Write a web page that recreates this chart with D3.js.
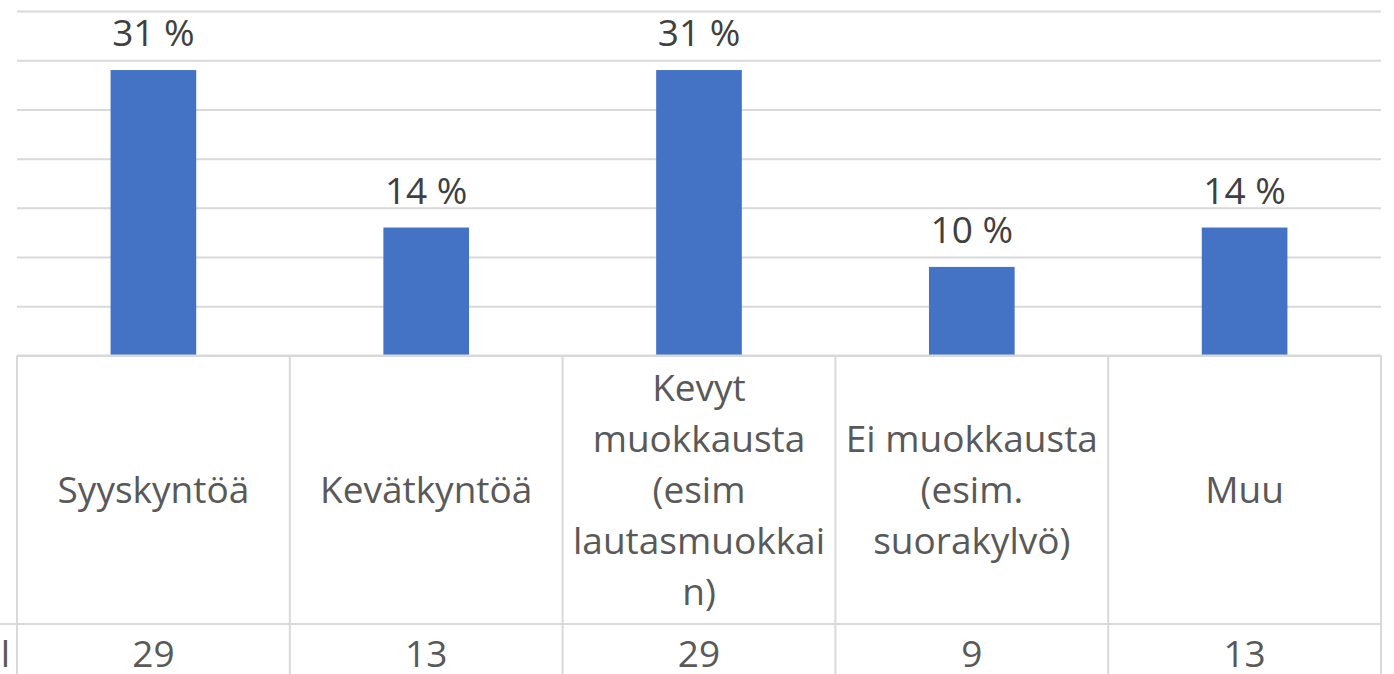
<!DOCTYPE html>
<html>
<head>
<meta charset="utf-8">
<script src="https://cdn.jsdelivr.net/npm/d3@7"></script>
<style>
  body { margin: 0; background: #fff; }
  svg { display: block; font-family: "Open Sans", sans-serif; }
</style>
</head>
<body>
<div class="chart"></div>
<script>
// chart data
var categories = ["Syyskyntöä", "Kevätkyntöä", "Kevyt\nmuokkausta\n(esim\nlautasmuokkai\nn)", "Ei muokkausta\n(esim.\nsuorakylvö)", "Muu"];
var counts = [29, 13, 29, 9, 13];
var yTicks = [0, 5, 10, 15, 20, 25, 30, 35];
var seriesName = "Kpl";

var width = 1394, height = 674;
var plotLeft = 17, plotRight = 1381, plotTop = 11, base = 355.5;
var rowLine = 624, fontSize = 37, lineGap = 51;

var total = d3.sum(counts);

var canvas = d3.select(".chart").append("svg")
    .attr("width", width)
    .attr("height", height);

var x = d3.scaleBand()
    .domain(categories)
    .range([plotLeft, plotRight])
    .paddingInner(0)
    .paddingOuter(0);

var y = d3.scaleLinear()
    .domain([0, 35])
    .range([base, plotTop]);

// gridlines
canvas.append("g")
    .attr("transform", "translate(" + plotLeft + ",0)")
    .call(d3.axisLeft(y).tickValues(yTicks).tickSize(-(plotRight - plotLeft)).tickFormat(""))
    .call(function (g) {
        g.select(".domain").remove();
        g.selectAll("line").attr("stroke", "#d9d9d9").attr("stroke-width", 2);
    });

// bars
var barW = x.bandwidth() * 0.314;
canvas.selectAll("rect.bar")
    .data(counts)
    .enter()
    .append("rect")
    .attr("class", "bar")
    .attr("x", function (d, i) { return x(categories[i]) + x.bandwidth() / 2 - barW / 2; })
    .attr("y", function (d) { return y(d); })
    .attr("width", barW)
    .attr("height", function (d) { return base - y(d); })
    .attr("fill", "#4472c4");

// percent labels
canvas.selectAll("text.pct")
    .data(counts)
    .enter()
    .append("text")
    .attr("class", "pct")
    .attr("x", function (d, i) { return x(categories[i]) + x.bandwidth() / 2; })
    .attr("y", function (d) { return y(d) - 24; })
    .attr("text-anchor", "middle")
    .attr("font-size", fontSize)
    .attr("fill", "#404040")
    .text(function (d) { return Math.round(d / total * 100) + " %"; });

// data table lines
var tbl = canvas.append("g").attr("stroke", "#d9d9d9").attr("stroke-width", 2);
tbl.append("line").attr("x1", plotLeft).attr("x2", plotRight).attr("y1", base).attr("y2", base);
tbl.append("line").attr("x1", 0).attr("x2", plotRight).attr("y1", rowLine).attr("y2", rowLine);
var edges = categories.map(function (c) { return x(c); }).concat([plotRight]);
tbl.selectAll("line.v")
    .data(edges)
    .enter()
    .append("line")
    .attr("class", "v")
    .attr("x1", function (d) { return d; })
    .attr("x2", function (d) { return d; })
    .attr("y1", base)
    .attr("y2", height);

// category labels in table
var mid = (base + rowLine) / 2;
canvas.selectAll("text.cat")
    .data(categories)
    .enter()
    .append("text")
    .attr("class", "cat")
    .attr("text-anchor", "middle")
    .attr("font-size", fontSize)
    .attr("fill", "#595959")
    .each(function (d) {
        var lines = d.split("\n");
        var t = d3.select(this);
        var cx = x(d) + x.bandwidth() / 2;
        lines.forEach(function (l, k) {
            t.append("tspan")
                .attr("x", cx)
                .attr("y", mid + (k - (lines.length - 1) / 2) * lineGap)
                .attr("dy", "0.35em")
                .text(l);
        });
    });

// count row
canvas.selectAll("text.cnt")
    .data(counts)
    .enter()
    .append("text")
    .attr("class", "cnt")
    .attr("x", function (d, i) { return x(categories[i]) + x.bandwidth() / 2; })
    .attr("y", 667)
    .attr("text-anchor", "middle")
    .attr("font-size", fontSize)
    .attr("fill", "#595959")
    .text(function (d) { return d; });

// series name, cut off at the left edge
canvas.append("text")
    .attr("x", 10)
    .attr("y", 667)
    .attr("text-anchor", "end")
    .attr("font-size", fontSize)
    .attr("fill", "#595959")
    .text(seriesName);
</script>
</body>
</html>
